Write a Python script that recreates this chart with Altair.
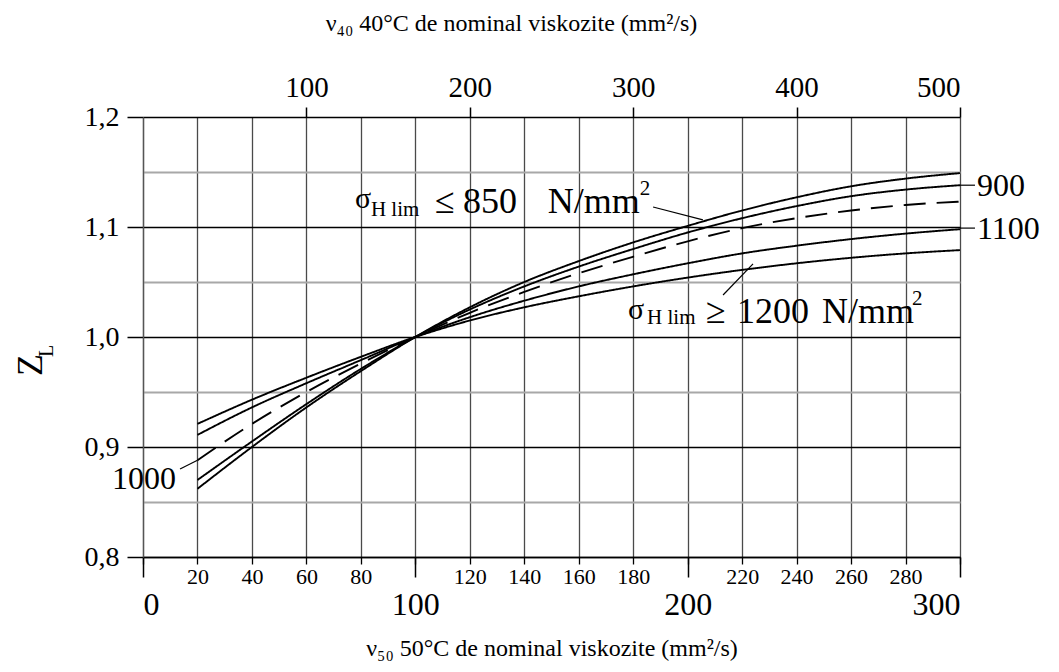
import altair as alt
import pandas as pd

FONT = "Liberation Serif"

# ---- data ----
nu50 = [20, 40, 60, 80, 100, 120, 140, 160, 180, 200, 220, 240, 260, 280, 300]
zl_850 = [0.862, 0.900, 0.936, 0.969, 1.000, 1.027, 1.050, 1.069, 1.086, 1.101, 1.115, 1.127, 1.137, 1.144, 1.149]
zl_900 = [0.870, 0.905, 0.939, 0.971, 1.000, 1.025, 1.046, 1.064, 1.080, 1.095, 1.108, 1.119, 1.128, 1.134, 1.138]
zl_1000 = [0.888, 0.921, 0.950, 0.976, 1.000, 1.022, 1.041, 1.058, 1.073, 1.087, 1.099, 1.108, 1.115, 1.120, 1.123]
zl_1100 = [0.911, 0.936, 0.958, 0.979, 1.000, 1.018, 1.033, 1.046, 1.057, 1.067, 1.076, 1.083, 1.089, 1.094, 1.098]
zl_1200 = [0.921, 0.943, 0.963, 0.982, 1.000, 1.015, 1.027, 1.037, 1.046, 1.054, 1.061, 1.067, 1.072, 1.076, 1.079]
curve_names = ["850", "900", "1000", "1100", "1200"]

bottom_minor_ticks = list(range(0, 301, 20))
bottom_major_ticks = [0, 100, 200, 300]
top_ticks_nu50 = [60, 120, 180, 240, 300]   # nu40 = 100 ... 500
y_major_ticks = [0.8, 0.9, 1.0, 1.1, 1.2]
y_minor_ticks = [0.85, 0.95, 1.05, 1.15]

# leader lines (data coordinates)
lead_x = [187.3, 300.0, 300.0, 13.6, 213.0]
lead_y = [1.1182, 1.138, 1.099, 0.880, 1.0382]
lead_x2 = [205.6, 305.5, 305.5, 20.0, 224.0]
lead_y2 = [1.1065, 1.138, 1.099, 0.888, 1.0665]

# annotation texts: text, anchor (data coordinates, left / baseline), kind
ann_text = ["σ", "H lim", "≤", "850", "N/mm", "2",
            "σ", "H lim", "≥", "1200", "N/mm", "2",
            "900", "1100", "1000"]
ann_x = [77.85, 83.7, 107.2, 117.5, 148.6, 182.4,
         178.1, 185.1, 206.7, 218.1, 249.3, 282.4,
         306.2, 306.2, -11.4]
ann_y = [1.1173, 1.1100, 1.1130, 1.1130, 1.1130, 1.1291,
         1.0168, 1.0118, 1.0130, 1.0130, 1.0130, 1.0291,
         1.1282, 1.0891, 0.8618]
ann_kind = ["sigma", "sub", "main", "main", "main", "sub",
            "sigma", "sub", "main", "main", "main", "sub",
            "label", "label", "label"]
zl_text = ["Z", "L"]
zl_x = [-41.1, -35.3]
zl_y = [0.9745, 0.9873]
zl_kind = ["main", "sub"]

# ---- tables ----
series = {"850": zl_850, "900": zl_900, "1000": zl_1000, "1100": zl_1100, "1200": zl_1200}
rows = []
for name in curve_names:
    for xv, yv in zip(nu50, series[name]):
        rows.append({"nu50": xv, "zl": yv, "curve": name})
df = pd.DataFrame(rows)
lead_df = pd.DataFrame({"x": lead_x, "y": lead_y, "x2": lead_x2, "y2": lead_y2})
ann_df = pd.DataFrame({"t": ann_text, "x": ann_x, "y": ann_y, "kind": ann_kind})
zl_df = pd.DataFrame({"t": zl_text, "x": zl_x, "y": zl_y, "kind": zl_kind})

x_scale = alt.Scale(domain=[0, 300], nice=False, zero=False)
y_scale = alt.Scale(domain=[0.8, 1.2], nice=False, zero=False)

lines = alt.Chart(df).mark_line(color="black", strokeWidth=1.9, interpolate="monotone").encode(
    x=alt.X("nu50:Q", scale=x_scale, axis=alt.Axis(
        orient="bottom", values=bottom_minor_ticks, grid=True, gridColor="#4a4a4a", gridWidth=1.3,
        tickSize=7, tickWidth=1.3, tickColor="black",
        labelExpr="datum.value % 100 == 0 ? '' : datum.label",
        labelFont=FONT, labelFontSize=22, labelColor="black", labelPadding=2,
        domainColor="black", domainWidth=1.5, title=None)),
    y=alt.Y("zl:Q", scale=y_scale, axis=alt.Axis(
        orient="left", values=y_major_ticks, grid=True, gridColor="black", gridWidth=1.5,
        tickSize=16, tickWidth=1.5, tickColor="black",
        labelExpr="replace(format(datum.value, '.1f'), '.', ',')",
        labelFont=FONT, labelFontSize=28, labelColor="black", labelPadding=8,
        domainColor="#555555", domainWidth=1.3, title=None)),
    strokeDash=alt.StrokeDash("curve:N", scale=alt.Scale(
        domain=curve_names, range=[[1, 0], [1, 0], [22, 11], [1, 0], [1, 0]]), legend=None),
    detail="curve:N",
)

leaders = alt.Chart(lead_df).mark_rule(color="black", strokeWidth=1.2).encode(
    x=alt.X("x:Q", scale=x_scale, axis=alt.Axis(
        orient="bottom", values=bottom_major_ticks, grid=False, tickSize=20, tickWidth=1.5,
        tickColor="black", labelFont=FONT, labelFontSize=32, labelColor="black", labelPadding=12,
        domain=False, title="ν₅₀ 50°C de nominal viskozite  (mm²/s)",
        titleFont=FONT, titleFontSize=24, titleFontWeight="normal", titleColor="black", titlePadding=16)),
    y=alt.Y("y:Q", scale=y_scale, axis=alt.Axis(
        orient="left", values=y_minor_ticks, grid=True, gridColor="#a8a8a8", gridWidth=2,
        ticks=False, labels=False, domain=False, title=None)),
    x2="x2:Q",
    y2="y2:Q",
)


def ann_layer(kind, font_size, axis=None):
    return alt.Chart(ann_df).transform_filter(alt.datum.kind == kind).mark_text(
        font=FONT, fontSize=font_size, align="left", baseline="alphabetic", color="black"
    ).encode(
        x=alt.X("x:Q", scale=x_scale, axis=axis),
        y=alt.Y("y:Q", scale=y_scale, axis=None),
        text="t:N",
    )


top_axis = alt.Axis(
    orient="top", values=top_ticks_nu50, grid=False, tickSize=10, tickWidth=1.5, tickColor="black",
    labelExpr="format(datum.value / 0.6, '.0f')",
    labelFont=FONT, labelFontSize=29, labelColor="black", labelPadding=5,
    domain=False, title="ν₄₀ 40°C de nominal viskozite  (mm²/s)", titleX=368,
    titleFont=FONT, titleFontSize=24, titleFontWeight="normal", titleColor="black", titlePadding=38)

ann_main = ann_layer("main", 36, top_axis)
ann_sub = ann_layer("sub", 21)
ann_sigma = ann_layer("sigma", 30)
ann_label = ann_layer("label", 32)


def zl_layer(kind, font_size):
    return alt.Chart(zl_df).transform_filter(alt.datum.kind == kind).mark_text(
        font=FONT, fontSize=font_size, align="center", baseline="middle", angle=270, color="black"
    ).encode(
        x=alt.X("x:Q", scale=x_scale, axis=None),
        y=alt.Y("y:Q", scale=y_scale, axis=None),
        text="t:N",
    )


zl_main = zl_layer("main", 36)
zl_sub = zl_layer("sub", 20)

chart = alt.layer(lines, leaders, ann_main, ann_sub, ann_sigma, ann_label, zl_main, zl_sub).resolve_axis(
    x="independent", y="independent"
).properties(
    width=817, height=440,
    padding={"left": 135, "top": 109, "right": 91, "bottom": 107},
    autosize=alt.AutoSizeParams(type="none"),
).configure_view(stroke=None).configure(background="white")

chart.save("out.html", embed_options={"renderer": "svg", "actions": False})
